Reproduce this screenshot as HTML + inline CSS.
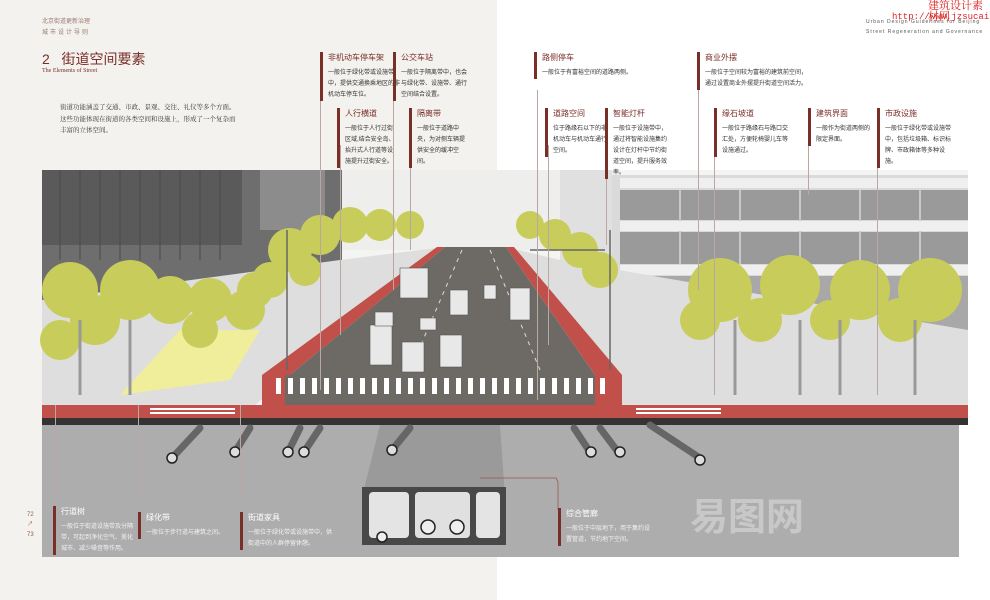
<!DOCTYPE html>
<html><head><meta charset="utf-8"><style>
*{margin:0;padding:0;box-sizing:border-box}
body{width:990px;height:600px;overflow:hidden;position:relative;background:#fff;font-family:"Liberation Sans","Noto Sans CJK SC",sans-serif}
.lp{position:absolute;left:0;top:0;width:497px;height:600px;background:#f3f2ee}
.t{position:absolute;color:#333;font-size:6.5px;line-height:11px}
.a{position:absolute;border-left:3px solid #7a2e28;padding-left:5px}
.a b{display:block;color:#7a2e28;font-size:8px;font-weight:normal;line-height:12px;margin-bottom:4px}
.a p{font-size:6px;line-height:11px;color:#333}
.w b{color:#fff}.w p{color:#f2f2f2}
.v{position:absolute;width:1px;background:#b9a7a3}
</style></head><body>
<div class="lp"></div>
<div class="t" style="left:42px;top:17px;color:#9b7b6f;font-size:6px">北京街道更新治理</div>
<div class="t" style="left:42px;top:28px;color:#9b7b6f;font-size:6px;letter-spacing:2px">城市设计导则</div>
<div class="t" style="left:42px;top:50px;color:#7a2e28;font-size:14px;line-height:18px">2&nbsp;&nbsp;&nbsp;街道空间要素</div>
<div class="t" style="left:42px;top:66px;color:#7a2e28;font-size:6px;font-family:'Liberation Serif',serif">The Elements of Street</div>
<div class="t" style="left:60px;top:102px;font-size:6.5px;line-height:11.5px;font-family:'Liberation Serif','Noto Serif CJK SC',serif">街道功能涵盖了交通、市政、景观、交往、礼仪等多个方面。<br>这些功能体现在街道的各类空间和设施上，形成了一个复杂而<br>丰富的立体空间。</div>
<div class="t" style="left:866px;top:17px;font-size:5px;color:#555;letter-spacing:1px">Urban Design Guidelines for Beijing</div>
<div class="t" style="left:866px;top:27px;font-size:5px;color:#555;letter-spacing:1px">Street Regeneration and Governance</div>
<div class="t" style="left:928px;top:1px;color:#d22;font-size:11px;font-family:'Liberation Serif','Noto Serif CJK SC',serif">建筑设计素材网</div>
<div class="t" style="left:892px;top:12px;color:#d22;font-size:9px;font-family:'Liberation Mono',monospace">http://www.jzsucai.com</div>

<svg style="position:absolute;left:0;top:0" width="990" height="600">
<defs><pattern id="cw" width="12" height="16" patternUnits="userSpaceOnUse"><rect width="5" height="16" fill="#fff"/></pattern></defs>
<rect x="42" y="170" width="926" height="255" fill="#f4f4f2"/>
<rect x="300" y="170" width="320" height="80" fill="#eeeeec"/>
<!-- left building -->
<rect x="42" y="170" width="300" height="130" fill="#6e6e6e"/>
<rect x="42" y="170" width="200" height="75" fill="#5a5a5a"/>
<rect x="260" y="170" width="65" height="60" fill="#8c8c8c"/>
<g stroke="#4a4a4a" stroke-width="1">
<line x1="60" y1="170" x2="60" y2="260"/><line x1="80" y1="170" x2="80" y2="260"/><line x1="100" y1="170" x2="100" y2="260"/><line x1="120" y1="170" x2="120" y2="260"/><line x1="140" y1="170" x2="140" y2="260"/><line x1="160" y1="170" x2="160" y2="260"/><line x1="180" y1="170" x2="180" y2="260"/><line x1="200" y1="170" x2="200" y2="260"/><line x1="220" y1="170" x2="220" y2="260"/>
</g>
<!-- right building -->
<rect x="612" y="175" width="356" height="160" fill="#dadada"/>
<rect x="620" y="190" width="348" height="30" fill="#9a9a9a"/>
<rect x="620" y="232" width="348" height="32" fill="#9a9a9a"/>
<g stroke="#c8c8c8" stroke-width="2">
<line x1="680" y1="190" x2="680" y2="264"/><line x1="740" y1="190" x2="740" y2="264"/><line x1="800" y1="190" x2="800" y2="264"/><line x1="860" y1="190" x2="860" y2="264"/><line x1="920" y1="190" x2="920" y2="264"/>
</g>
<rect x="620" y="178" width="348" height="10" fill="#efefef"/>
<rect x="620" y="221" width="348" height="10" fill="#efefef"/>
<rect x="620" y="265" width="348" height="10" fill="#efefef"/>
<rect x="620" y="276" width="348" height="60" fill="#a8a8a8"/>
<rect x="560" y="170" width="52" height="100" fill="#e0e0e0"/>
<!-- sidewalks -->
<polygon points="42,300 340,260 445,247 255,405 42,405" fill="#dedede"/>
<polygon points="506,247 560,260 968,330 968,405 620,405" fill="#dedede"/>
<polygon points="120,395 180,330 260,330 230,380" fill="#f0ee9a"/>
<!-- red lanes -->
<polygon points="437,247 445,247 290,375 262,375" fill="#c2504a"/>
<polygon points="506,247 514,247 622,375 595,375" fill="#c2504a"/>
<polygon points="445,247 506,247 595,375 290,375" fill="#6d6a66"/>
<rect x="262" y="375" width="360" height="30" fill="#c2504a"/>
<rect x="285" y="375" width="310" height="30" fill="#6d6a66"/>
<rect x="42" y="405" width="926" height="13" fill="#c2504a"/>
<rect x="42" y="418" width="926" height="7" fill="#333"/>
<rect x="272" y="378" width="340" height="16" fill="url(#cw)"/>
<g fill="#fff">
<rect x="150" y="408" width="85" height="2"/><rect x="150" y="412" width="85" height="2"/>
<rect x="636" y="408" width="85" height="2"/><rect x="636" y="412" width="85" height="2"/>
</g>
<g stroke="#ddd" stroke-width="1" stroke-dasharray="4 5">
<line x1="462" y1="250" x2="410" y2="370"/><line x1="490" y1="250" x2="540" y2="370"/>
</g>
<g fill="#e8e8e8" stroke="#555" stroke-width="0.6">
<rect x="370" y="325" width="22" height="40"/><rect x="402" y="342" width="22" height="30"/><rect x="440" y="335" width="22" height="32"/><rect x="450" y="290" width="18" height="25"/><rect x="510" y="288" width="20" height="32"/><rect x="400" y="268" width="28" height="30"/><rect x="375" y="312" width="18" height="14"/><rect x="420" y="318" width="16" height="12"/><rect x="484" y="285" width="12" height="14"/>
</g>
<g fill="#c8cc5a">
<circle cx="70" cy="290" r="28"/><circle cx="130" cy="290" r="30"/><circle cx="95" cy="320" r="25"/><circle cx="60" cy="340" r="20"/><circle cx="170" cy="300" r="24"/><circle cx="210" cy="300" r="22"/><circle cx="245" cy="310" r="20"/><circle cx="200" cy="330" r="18"/><circle cx="255" cy="290" r="18"/><circle cx="290" cy="250" r="22"/><circle cx="320" cy="235" r="20"/><circle cx="350" cy="225" r="18"/><circle cx="380" cy="225" r="16"/><circle cx="410" cy="225" r="14"/><circle cx="270" cy="280" r="18"/><circle cx="305" cy="270" r="16"/>
<circle cx="530" cy="225" r="14"/><circle cx="555" cy="235" r="16"/><circle cx="580" cy="250" r="18"/><circle cx="600" cy="270" r="18"/><circle cx="720" cy="290" r="32"/><circle cx="790" cy="285" r="30"/><circle cx="860" cy="290" r="30"/><circle cx="930" cy="290" r="32"/><circle cx="760" cy="320" r="22"/><circle cx="900" cy="320" r="22"/><circle cx="830" cy="320" r="20"/><circle cx="700" cy="320" r="20"/>
</g>
<g stroke="#999" stroke-width="3">
<line x1="80" y1="320" x2="80" y2="395"/><line x1="130" y1="320" x2="130" y2="395"/><line x1="735" y1="320" x2="735" y2="395"/><line x1="800" y1="320" x2="800" y2="395"/><line x1="840" y1="320" x2="840" y2="395"/><line x1="915" y1="320" x2="915" y2="395"/>
</g>
<g stroke="#666" stroke-width="1.5"><line x1="287" y1="230" x2="287" y2="370"/><line x1="610" y1="230" x2="610" y2="370"/><line x1="605" y1="250" x2="530" y2="250"/></g>
<rect x="42" y="425" width="917" height="132" fill="#adadad"/>
<polygon points="380,425 500,425 505,497 362,497" fill="#9a9a9a"/>
<rect x="362" y="487" width="144" height="58" fill="#484848"/>
<rect x="369" y="492" width="40" height="46" rx="4" fill="#e4e4e4"/>
<rect x="415" y="492" width="55" height="46" rx="4" fill="#e0e0e0"/>
<rect x="476" y="492" width="24" height="46" rx="4" fill="#e4e4e4"/>
<g fill="#eee" stroke="#222" stroke-width="1.5">
<circle cx="382" cy="537" r="5"/><circle cx="428" cy="527" r="7"/><circle cx="457" cy="527" r="7"/>
</g>
<g stroke="#666" stroke-width="7" stroke-linecap="round">
<line x1="200" y1="428" x2="172" y2="458"/><line x1="250" y1="428" x2="235" y2="452"/><line x1="300" y1="428" x2="288" y2="452"/><line x1="320" y1="428" x2="304" y2="452"/><line x1="410" y1="428" x2="392" y2="450"/>
<line x1="574" y1="428" x2="590" y2="452"/><line x1="600" y1="428" x2="618" y2="452"/><line x1="650" y1="425" x2="700" y2="458"/>
</g>
<g fill="#ddd" stroke="#222" stroke-width="1.5">
<circle cx="172" cy="458" r="5"/><circle cx="235" cy="452" r="5"/><circle cx="288" cy="452" r="5"/><circle cx="304" cy="452" r="5"/><circle cx="392" cy="450" r="5"/><circle cx="591" cy="452" r="5"/><circle cx="620" cy="452" r="5"/><circle cx="700" cy="460" r="5"/>
</g>
<text x="690" y="530" font-size="38" fill="#c8c8c8" font-family="Noto Sans CJK SC,sans-serif" font-weight="bold">易图网</text>
<path d="M480,478 L556,478 L558,482 L558,510" stroke="#9a5550" fill="none" stroke-width="0.8"/>
</svg>

<div class="v" style="left:320px;top:90px;height:300px"></div>
<div class="v" style="left:340px;top:145px;height:190px"></div>
<div class="v" style="left:393px;top:90px;height:200px"></div>
<div class="v" style="left:410px;top:145px;height:105px"></div>
<div class="v" style="left:537px;top:90px;height:310px"></div>
<div class="v" style="left:548px;top:145px;height:200px"></div>
<div class="v" style="left:606px;top:145px;height:100px"></div>
<div class="v" style="left:698px;top:90px;height:200px"></div>
<div class="v" style="left:714px;top:145px;height:250px"></div>
<div class="v" style="left:808px;top:145px;height:50px"></div>
<div class="v" style="left:877px;top:145px;height:250px"></div>
<div class="v" style="left:55px;top:405px;height:100px"></div>
<div class="v" style="left:138px;top:405px;height:100px"></div>
<div class="v" style="left:240px;top:405px;height:100px"></div>

<div class="a" style="left:320px;top:52px;width:80px"><b>非机动车停车架</b><p>一般位于绿化带或设施带中，提供交通换乘地区的非机动车停车位。</p></div>
<div class="a" style="left:393px;top:52px;width:75px"><b>公交车站</b><p>一般位于隔离带中，也会与绿化带、设施带、通行空间结合设置。</p></div>
<div class="a" style="left:337px;top:108px;width:60px"><b>人行横道</b><p>一般位于人行过街区域,结合安全岛、抬升式人行道等设施提升过街安全。</p></div>
<div class="a" style="left:409px;top:108px;width:60px"><b>隔离带</b><p>一般位于道路中央，为对侧车辆提供安全的缓冲空间。</p></div>
<div class="a" style="left:534px;top:52px;width:110px"><b>路侧停车</b><p>一般位于有富裕空间的道路两侧。</p></div>
<div class="a" style="left:545px;top:108px;width:62px"><b>道路空间</b><p>位于路缘石以下的非机动车与机动车通行空间。</p></div>
<div class="a" style="left:605px;top:108px;width:65px"><b>智能灯杆</b><p>一般位于设施带中，通过将智能设施集约设计在灯杆中节约街道空间，提升服务效率。</p></div>
<div class="a" style="left:697px;top:52px;width:110px"><b>商业外摆</b><p>一般位于空间较为富裕的建筑前空间，通过设置商业外摆提升街道空间活力。</p></div>
<div class="a" style="left:714px;top:108px;width:75px"><b>缘石坡道</b><p>一般位于路缘石与路口交汇处，方便轮椅婴儿车等设施通过。</p></div>
<div class="a" style="left:808px;top:108px;width:62px"><b>建筑界面</b><p>一般作为街道两侧的限定界面。</p></div>
<div class="a" style="left:877px;top:108px;width:75px"><b>市政设施</b><p>一般位于绿化带或设施带中，包括垃圾箱、标识标牌、市政箱体等多种设施。</p></div>

<div class="t" style="left:27px;top:510px;color:#9b5a40;font-size:6px;line-height:10px">72<br>↗<br>73</div>
<div class="a w" style="left:53px;top:506px;width:80px"><b>行道树</b><p>一般位于街道设施带及分隔带，可起到净化空气、美化城市、减少噪音等作用。</p></div>
<div class="a w" style="left:138px;top:512px;width:95px"><b>绿化带</b><p>一般位于步行道与建筑之间。</p></div>
<div class="a w" style="left:240px;top:512px;width:95px"><b>街道家具</b><p>一般位于绿化带或设施带中，供街道中的人群停留休憩。</p></div>
<div class="a w" style="left:558px;top:508px;width:95px"><b>综合管廊</b><p>一般位于中层地下，用于集约设置管道，节约地下空间。</p></div>
</body></html>
